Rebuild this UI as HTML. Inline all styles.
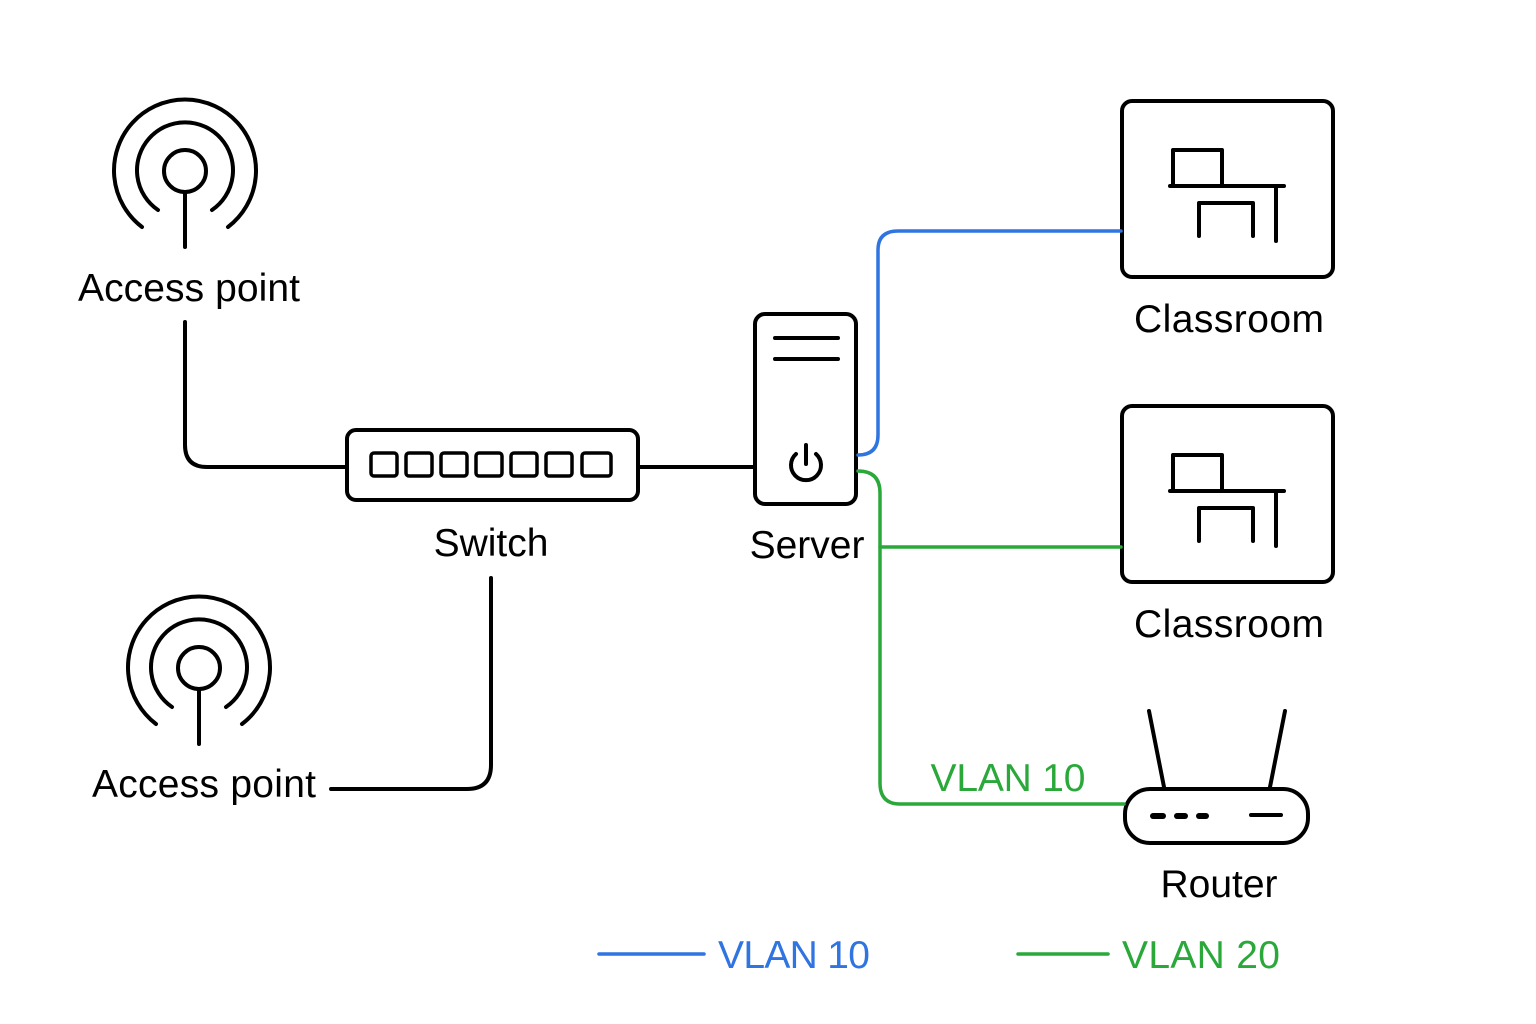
<!DOCTYPE html>
<html><head><meta charset="utf-8"><style>
html,body{margin:0;padding:0;background:#fff}
svg{display:block}
text{font-family:"Liberation Sans",sans-serif;font-size:39px}
</style></head><body>
<svg width="1536" height="1024" viewBox="0 0 1536 1024" xmlns="http://www.w3.org/2000/svg">
<rect width="1536" height="1024" fill="#fff"/>
<g fill="none" stroke="#000" stroke-width="4" stroke-linecap="round" stroke-linejoin="round">
  <circle cx="185" cy="171" r="21"/>
  <path d="M158 210 A48 48 0 1 1 212 210"/>
  <path d="M142 227 A71 71 0 1 1 228 227"/>
  <line x1="185" y1="192" x2="185" y2="247"/>
  <circle cx="199" cy="668" r="21"/>
  <path d="M172 707 A48 48 0 1 1 226 707"/>
  <path d="M156 724 A71 71 0 1 1 242 724"/>
  <line x1="199" y1="689" x2="199" y2="744"/>
  <path d="M185 322 V445 Q185 467 207 467 H347"/>
  <path d="M638 467 H755"/>
  <path d="M491 578 V765 Q491 789 467 789 H331"/>
  <rect x="347" y="430" width="291" height="70" rx="9"/>
  <g stroke-width="3.5">
  <rect x="371" y="453" width="26" height="23" rx="3"/>
  <rect x="406" y="453" width="26" height="23" rx="3"/>
  <rect x="441" y="453" width="26" height="23" rx="3"/>
  <rect x="476" y="453" width="26" height="23" rx="3"/>
  <rect x="511" y="453" width="26" height="23" rx="3"/>
  <rect x="546" y="453" width="26" height="23" rx="3"/>
  <rect x="582" y="453" width="29" height="23" rx="3"/>
  </g>
  <rect x="755" y="314" width="101" height="190" rx="10"/>
  <line x1="775" y1="338" x2="838" y2="338"/>
  <line x1="775" y1="359" x2="838" y2="359"/>
  <path d="M796 454 A15 15 0 1 0 816 454"/>
  <line x1="806" y1="445" x2="806" y2="464"/>
  <rect x="1122" y="101" width="211" height="176" rx="10"/>
  <rect x="1173" y="150" width="49" height="36"/>
  <line x1="1170" y1="186" x2="1284" y2="186"/>
  <line x1="1276" y1="186" x2="1276" y2="241"/>
  <path d="M1199 236 V203 H1253 V236"/>
  <rect x="1122" y="406" width="211" height="176" rx="10"/>
  <rect x="1173" y="455" width="49" height="36"/>
  <line x1="1170" y1="491" x2="1284" y2="491"/>
  <line x1="1276" y1="491" x2="1276" y2="546"/>
  <path d="M1199 541 V508 H1253 V541"/>
  <line x1="1149" y1="711" x2="1164" y2="787"/>
  <line x1="1285" y1="711" x2="1270" y2="787"/>
  <rect x="1125" y="789" width="183" height="54" rx="25"/>
  <g stroke-width="6"><line x1="1153" y1="816" x2="1163" y2="816"/><line x1="1177" y1="816" x2="1185" y2="816"/><line x1="1199" y1="816" x2="1206" y2="816"/></g>
  <line x1="1251" y1="815" x2="1281" y2="815"/>
</g>
<g fill="none" stroke="#2f74e0" stroke-width="3.5" stroke-linecap="round">
  <path d="M858 455 Q878 455 878 435 V250 Q878 231 898 231 H1121"/>
  <line x1="599" y1="954" x2="704" y2="954"/>
</g>
<g fill="none" stroke="#2aa83a" stroke-width="3.5" stroke-linecap="round">
  <path d="M858 471 Q880 471 880 493 V783 Q880 804 900 804 H1124"/>
  <path d="M880 547 H1121"/>
  <line x1="1018" y1="954" x2="1108" y2="954"/>
</g>
<text x="189" y="301" text-anchor="middle" textLength="222">Access point</text>
<text x="204" y="797" text-anchor="middle" textLength="224">Access point</text>
<text x="491" y="556" text-anchor="middle">Switch</text>
<text x="807" y="558" text-anchor="middle">Server</text>
<text x="1229" y="332" text-anchor="middle" textLength="190">Classroom</text>
<text x="1229" y="637" text-anchor="middle" textLength="190">Classroom</text>
<text x="1219" y="897" text-anchor="middle">Router</text>
<text x="1008" y="791" text-anchor="middle" fill="#2aa83a" textLength="155">VLAN 10</text>
<text x="794" y="968" text-anchor="middle" fill="#2f74e0" textLength="152">VLAN 10</text>
<text x="1201" y="968" text-anchor="middle" fill="#2aa83a" textLength="158">VLAN 20</text>
</svg>
</body></html>
